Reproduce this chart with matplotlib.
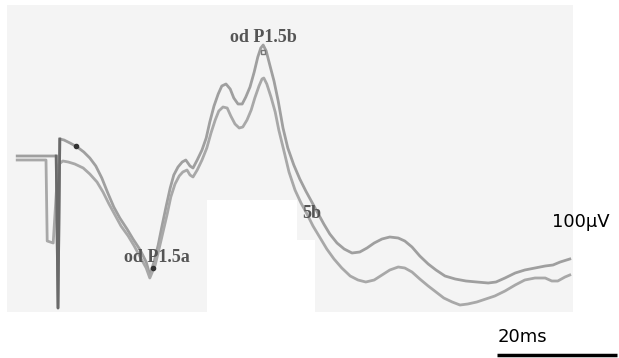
import numpy as np
import matplotlib.pyplot as plt
from matplotlib.patches import Rectangle

# time (ms) and amplitude (uV) for the two recordings
t_a = [-6.8, -0.3, 0.0, 0.3, 1.0, 2.0, 3.2, 4.3, 5.3, 6.3, 7.3, 8.3, 9.3, 10.3, 11.5,
       12.5, 13.7, 14.7, 15.3,
       16.0, 16.7, 17.3, 18.0, 18.7, 19.3, 20.0, 20.7, 21.3, 22.0, 22.5, 23.2, 24.0,
       24.7, 25.3, 26.0, 26.7, 27.3, 28.0, 28.7, 29.3, 30.0, 30.7, 31.3, 32.0, 32.7,
       33.3, 33.8, 34.2, 34.7, 35.3, 36.0, 36.7, 37.5, 38.3, 39.3, 40.3, 41.3, 42.3,
       43.3, 44.3, 45.3, 46.5, 47.7, 49.0, 50.3, 51.5, 52.7, 54.0, 55.3, 56.7, 57.8,
       59.0, 60.3, 61.7, 63.0, 64.5, 66.2, 68.0, 69.8, 71.7, 73.0, 74.5, 76.2, 77.8,
       79.5, 81.2, 82.5, 83.7, 85.3]
v_a = [4, 4, -300, 38, 36, 30, 22, 12, 0, -16, -40, -70, -98, -120, -142,
       -162, -184, -208, -234,
       -208, -174, -138, -98, -60, -34, -18, -8, -4, -16, -20, -4, 16,
       40, 72, 104, 128, 144, 148, 138, 120, 108, 108, 122, 142, 172,
       202, 220, 226, 214, 186, 154, 114, 60, 20, -14, -42, -66, -88,
       -110, -132, -152, -170, -182, -190, -188, -180, -170, -162, -158, -160, -166,
       -178, -196, -212, -224, -236, -242, -246, -248, -250, -248, -240, -230, -224,
       -220, -216, -214, -208, -202]

t_b = [-6.8, -2.0, -1.8, -0.8, 0.0, 0.8, 1.7, 2.8, 4.2, 5.3, 6.5, 7.5, 8.5, 9.5, 10.5,
       11.7, 12.7, 13.7, 14.7, 15.3,
       16.2, 16.8, 17.5, 18.2, 18.8, 19.5, 20.2, 20.8, 21.5, 22.0, 22.5, 23.2, 24.0,
       24.8, 25.5, 26.2, 26.8, 27.5, 28.2, 28.8, 29.5, 30.2, 30.8, 31.5, 32.2, 32.8,
       33.5, 34.0, 34.3, 34.8, 35.5, 36.2, 36.8, 37.7, 38.5, 39.5, 40.5, 41.5, 42.5,
       43.7, 44.8, 46.0, 47.3, 48.7, 50.0, 51.3, 52.7, 54.0, 55.3, 56.7, 57.8, 59.0,
       60.3, 61.7, 63.0, 64.3, 65.7, 67.0, 68.3, 69.8, 71.3, 72.8, 74.5, 76.2, 77.8,
       79.5, 81.2, 82.3, 83.3, 84.5, 85.3]
v_b = [-4, -4, -166, -170, -14, -6, -8, -12, -20, -32, -48, -68, -92, -114, -136,
       -156, -176, -198, -220, -240,
       -214, -184, -148, -112, -78, -52, -36, -28, -24, -34, -38, -24, -4,
       20, 50, 76, 94, 102, 100, 84, 68, 60, 62, 76, 96, 120,
       144, 158, 160, 148, 122, 92, 56, 12, -28, -64, -90, -112, -136,
       -160, -182, -202, -220, -236, -244, -248, -244, -234, -224, -218, -220, -228,
       -242, -256, -268, -280, -288, -294, -292, -288, -282, -276, -266, -254, -244,
       -240, -240, -246, -246, -238, -234]

# peak labels: text, time, amplitude
peak_names = ["od P1.5b", "od P1.5a", "5b"]
peak_t = [34.2, 16.5, 42.2]
peak_v = [240, -200, -110]

fig = plt.figure(figsize=(6.19, 3.58), dpi=100)
ax = fig.add_axes([0, 0, 1, 1])
ax.set_xlim(-9.667, 93.5)
ax.set_ylim(-400, 316)
ax.axis("off")

# scanned paper background with a blank patch
ax.add_patch(Rectangle((-8.5, -308), 94.3, 614, color="#f4f4f4", zorder=0, lw=0))
ax.add_patch(Rectangle((24.8, -308), 15.0, 224, color="white", zorder=0.5, lw=0))
ax.add_patch(Rectangle((39.8, -308), 3.0, 144, color="white", zorder=0.5, lw=0))

ax.plot(t_a, v_a, color="#9f9f9f", lw=2.0, zorder=2)
ax.plot(t_b, v_b, color="#a8a8a8", lw=2.0, zorder=2)
# stimulus artifact shows darker where the sweeps overlap
ax.plot(t_a[1:4], v_a[1:4], color="#6a6a6a", lw=2.0, zorder=2.5)

# cursor markers
ax.plot([3.0], [24], "o", color="#333333", ms=3, zorder=3)
ax.plot([15.8], [-220], "o", color="#333333", ms=3, zorder=3)
ax.plot([34.2], [212], "s", mfc="none", mec="#777777", ms=3.5, zorder=3)

for name, tx, vy in zip(peak_names, peak_t, peak_v):
    ax.text(tx, vy, name, family="Liberation Serif", weight="bold", fontsize=13,
            color="#555555", ha="center", va="center", zorder=4)

# calibration
ax.text(82.3, -128, "100\u03bcV", fontsize=13, color="black", ha="left", va="center")
ax.text(73.2, -358, "20ms", fontsize=13, color="black", ha="left", va="center")
ax.plot([73.2, 93.2], [-394, -394], color="black", lw=2.5, solid_capstyle="butt")

fig.savefig("out.png", dpi=100)
